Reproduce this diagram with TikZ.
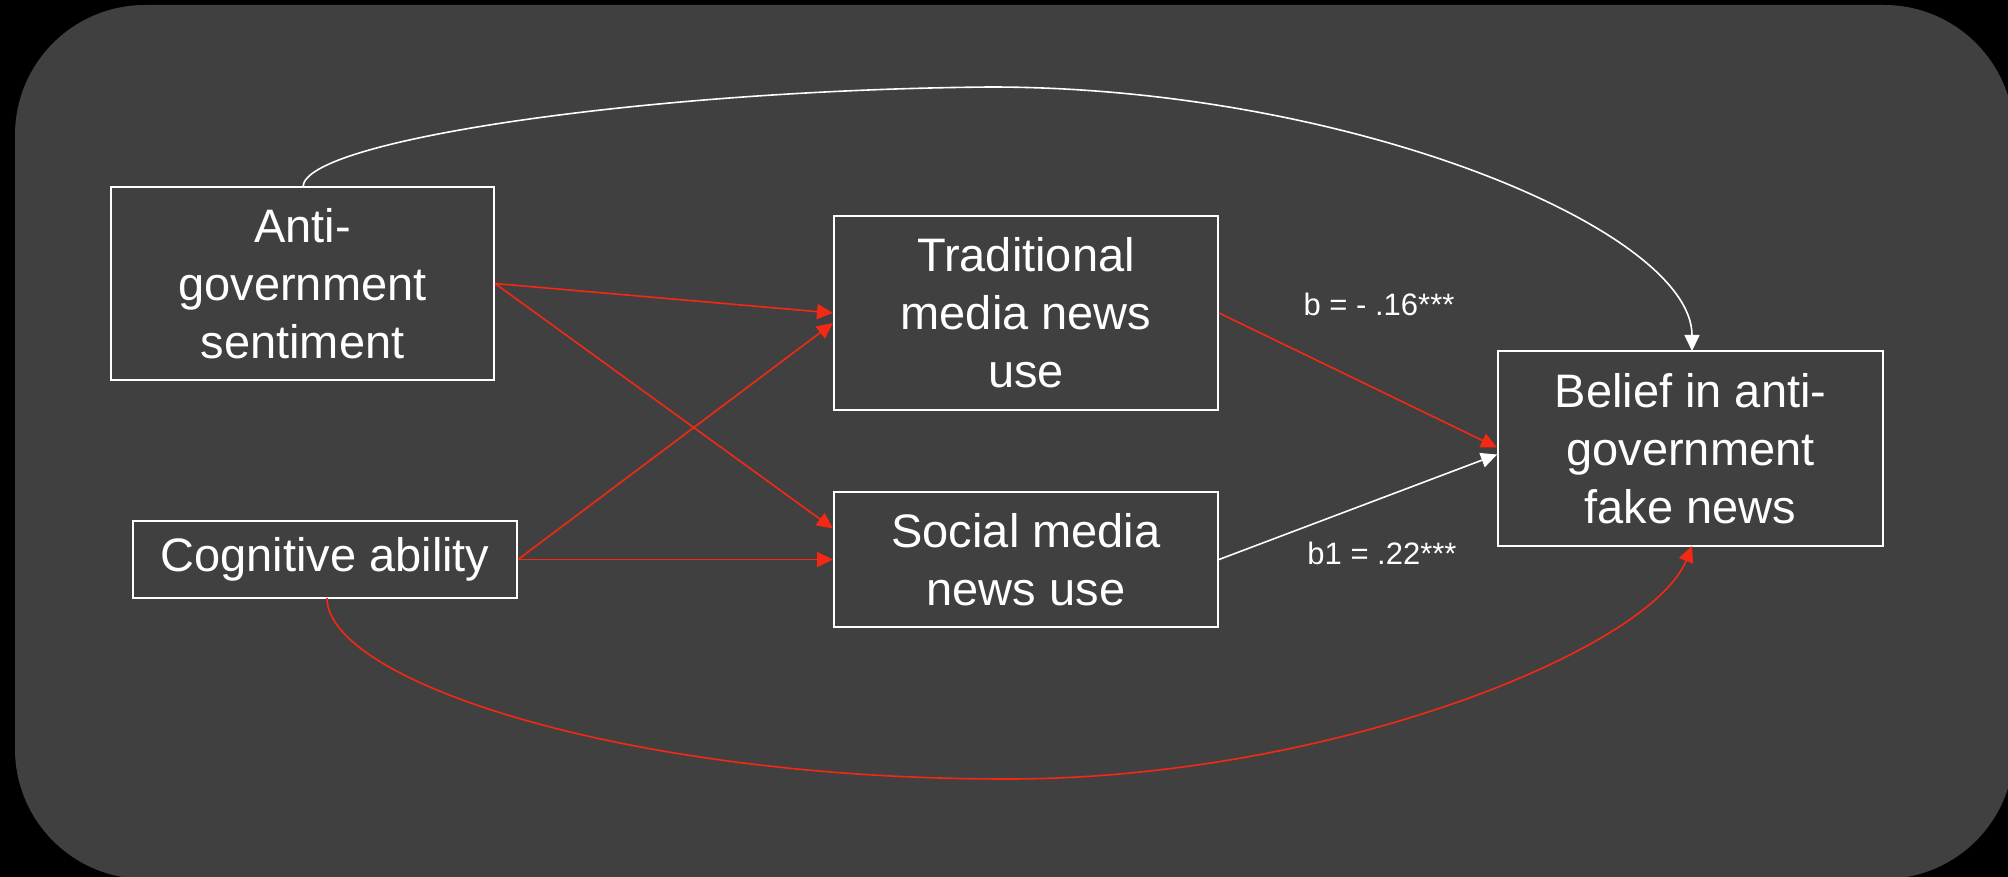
\documentclass[tikz,border=0pt]{standalone}
\usepackage{fontspec}
\setmainfont{Liberation Sans}
\usetikzlibrary{arrows.meta,calc}
\definecolor{panel}{RGB}{64,64,64}
\definecolor{redline}{RGB}{245,40,20}
\begin{document}
\begin{tikzpicture}[x=0.5pt,y=-0.5pt,
  box/.style={draw=white,line width=1pt,text=white,align=center,
    font=\fontsize{23.5pt}{29pt}\selectfont,inner sep=0pt},
  redarrow/.style={draw=redline,line width=0.8pt,-{Triangle[length=8pt,width=7.5pt]}},
  whitearrow/.style={draw=white,line width=0.8pt,-{Triangle[length=8pt,width=7.5pt]}},
  lab/.style={text=white,font=\fontsize{15.5pt}{18pt}\selectfont,inner sep=0pt}]
\useasboundingbox (0,0) rectangle (2008,877);
\fill[black] (0,0) rectangle (2008,877);
\fill[panel,rounded corners=65pt] (15,5) rectangle (2014,879);

\node[box,minimum width=191.5pt,minimum height=96.5pt] (anti) at (302.5,283.5) {Anti-\\government\\sentiment};
\node[box,minimum width=192pt,minimum height=38.5pt] (cog) at (325,559.5) {Cognitive ability};
\node[box,minimum width=192pt,minimum height=97pt] (trad) at (1026,313) {Traditional\\media news\\use};
\node[box,minimum width=192pt,minimum height=67.5pt] (soc) at (1026,559.5) {Social media\\news use};
\node[box,minimum width=192.5pt,minimum height=97.5pt] (belief) at (1690.5,448.5) {Belief in anti-\\government\\fake news};

\node[lab] (lb) at (1379,304) {b = - .16***};
\node[lab] (lb1) at (1382,553) {b1 = .22***};

\draw[redarrow] (anti.east) -- ([yshift=0pt]trad.west);
\draw[redarrow] (anti.east) -- ([yshift=15.5pt]soc.west);
\draw[redarrow] (cog.east) -- ([yshift=-5pt]trad.west);
\draw[redarrow] (cog.east) -- (soc.west);
\draw[redarrow] (trad.east) -- ([yshift=0.5pt]belief.west);
\draw[whitearrow] (soc.east) -- ([yshift=-3pt]belief.west);

\coordinate (ta) at (303,187);
\coordinate (tm) at (990,87);
\coordinate (tb) at (1692,351);
\draw[whitearrow] (ta) .. controls (303,140) and (650,90) .. (tm)
  .. controls (1350,87) and (1692,230) .. (tb);
\coordinate (ca) at (327,598);
\coordinate (cm) at (1007,779);
\coordinate (cb) at (1692,546);
\draw[redarrow] (ca) .. controls (327,680) and (620,779) .. (cm)
  .. controls (1330,779) and (1650,650) .. (cb);
\end{tikzpicture}
\end{document}
